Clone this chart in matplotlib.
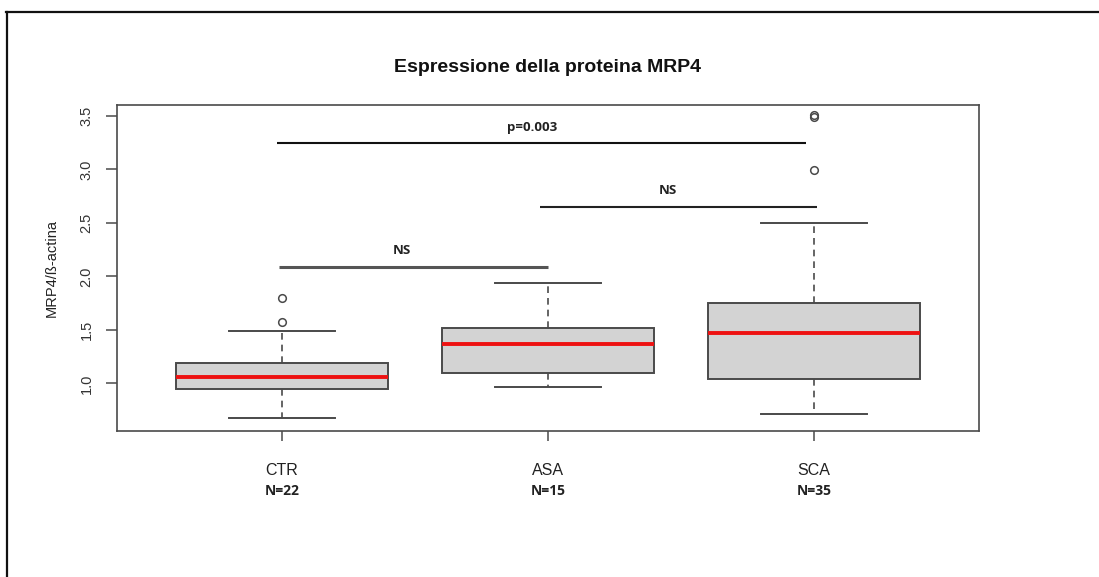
import matplotlib
matplotlib.use("Agg")
import matplotlib.pyplot as plt
from matplotlib.lines import Line2D
import matplotlib.transforms as mtransforms

# ---- data ----
categories = ["CTR", "ASA", "SCA"]
n_labels = ["N=22", "N=15", "N=35"]
q1 = [0.947, 1.099, 1.043]
median = [1.056, 1.370, 1.468]
q3 = [1.193, 1.520, 1.748]
whisker_low = [0.673, 0.963, 0.713]
whisker_high = [1.489, 1.938, 2.497]
outliers = [[1.80, 1.576], [], [2.995, 3.488, 3.514]]

# significance brackets: (from group, to group, height, label)
sig_from = [1, 2, 1]
sig_to = [2, 3, 3]
sig_y = [2.088, 2.652, 3.245]
sig_text = ["NS", "NS", "p=0.003"]

yticks = [1.0, 1.5, 2.0, 2.5, 3.0, 3.5]

plt.rcParams['font.family'] = ['Liberation Sans', 'DejaVu Sans']

fig = plt.figure(figsize=(10.99, 5.77), dpi=100)
ax = fig.add_axes([117/1099, 1 - 431/577, (979-117)/1099, (431-105)/577])

stats = []
for i, c in enumerate(categories):
    stats.append(dict(label=c, q1=q1[i], med=median[i], q3=q3[i],
                      whislo=whisker_low[i], whishi=whisker_high[i],
                      fliers=outliers[i]))

edge = "#4a4a4a"
positions = [1, 2, 3]
ax.bxp(stats, positions=positions, widths=0.8, capwidths=0.4,
       patch_artist=True, showfliers=True,
       boxprops=dict(facecolor="#d3d3d3", edgecolor=edge, linewidth=1.4),
       medianprops=dict(color="#ee1111", linewidth=2.8, solid_capstyle="butt"),
       whiskerprops=dict(color=edge, linewidth=1.2, linestyle=(0, (4, 3))),
       capprops=dict(color=edge, linewidth=1.4),
       flierprops=dict(marker="o", markerfacecolor="none", markeredgecolor=edge,
                       markersize=5.5, markeredgewidth=1.1))

ax.set_xlim(0.38, 3.62)
ax.set_ylim(0.554, 3.603)
ax.set_yticks(yticks)
ax.set_yticklabels([f"{v:.1f}" for v in yticks], rotation=90, va="center",
                   fontsize=10.5, color="#333333")
ax.set_xticks(positions)
ax.set_xticklabels(categories, fontsize=11.5, color="#222222")
ax.tick_params(axis="y", length=8, width=1.1, color=edge, pad=9)
ax.tick_params(axis="x", length=7, width=1.1, color=edge, pad=16)
for s in ax.spines.values():
    s.set_color(edge)
    s.set_linewidth(1.2)

# N labels under category names
trans = mtransforms.blended_transform_factory(ax.transData, ax.transAxes)
for p, n in zip(positions, n_labels):
    ax.text(p, -0.183, n, transform=trans, ha="center", va="center",
            fontsize=10, fontweight="bold", family=["Open Sans", "DejaVu Sans"],
            color="#222222")

# significance lines
line_colors = ["#555555", "#222222", "#111111"]
line_w = [2.2, 1.5, 1.5]
x_adj_from = [-0.01, -0.03, -0.02]
x_adj_to = [0.0, 0.01, -0.03]
for a, b, y, t, lc, lw, da, db in zip(sig_from, sig_to, sig_y, sig_text,
                                       line_colors, line_w, x_adj_from, x_adj_to):
    ax.plot([a + da, b + db], [y, y], color=lc, linewidth=lw, solid_capstyle="butt")
    ax.text((a + b) / 2 - 0.05 if t == "NS" else (a + b) / 2 - 0.06, y + 0.15, t,
            ha="center", va="center", fontsize=9.5, fontweight="bold",
            family=["Open Sans", "DejaVu Sans"], color="#222222")

ax.set_ylabel("MRP4/ß-actina", fontsize=10.5, color="#222222", labelpad=15)
ax.set_title("Espressione della proteina MRP4", fontsize=14, fontweight="bold",
             pad=24, color="#111111")

# outer frame lines (top and left)
fig.add_artist(Line2D([6/1099, 1.0], [1 - 12/577, 1 - 12/577],
                      transform=fig.transFigure, color="#111111", linewidth=1.6))
fig.add_artist(Line2D([7/1099, 7/1099], [0, 1 - 12/577],
                      transform=fig.transFigure, color="#111111", linewidth=1.6))

fig.savefig("out.png", dpi=100)
